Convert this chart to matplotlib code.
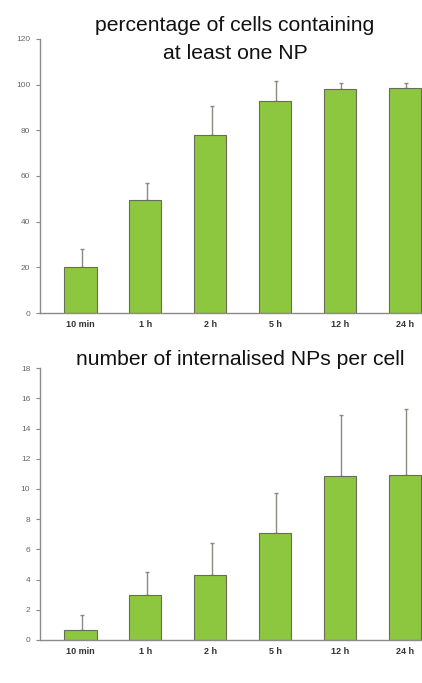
import numpy as np
import matplotlib.pyplot as plt

plt.rcParams['font.family'] = ['Liberation Sans', 'DejaVu Sans']

categories = ['10 min', '1 h', '2 h', '5 h', '12 h', '24 h']

# percentage of cells containing at least one NP
pct_means = [20, 49.5, 78, 93, 98, 98.5]
pct_err = [8, 7.5, 12.5, 8.5, 2.5, 2]

# number of internalised NPs per cell
num_means = [0.65, 3.0, 4.3, 7.1, 10.85, 10.9]
num_err = [1.0, 1.5, 2.1, 2.6, 4.05, 4.4]

bar_color = '#8dc63f'
edge_color = '#6b6b5a'
axis_color = '#8a8a8a'

fig = plt.figure(figsize=(4.22, 6.83), dpi=100)
ax1 = fig.add_axes([0.0948, 0.5417, 0.9052, 0.4013])
ax2 = fig.add_axes([0.0948, 0.063, 0.9052, 0.398])

x = np.arange(len(categories))


def style(ax, means, errs, ymax, step):
    ax.bar(x, means, width=0.5, color=bar_color, edgecolor=edge_color, linewidth=0.8, zorder=2)
    ax.errorbar(x + 0.02, means, yerr=[np.zeros(len(x)), errs], fmt='none',
                ecolor='#8a8a80', elinewidth=1.0, capsize=1.5, capthick=1.0, zorder=1)
    ax.set_xlim(-0.62, 5.26)
    ax.set_ylim(0, ymax)
    ax.set_yticks(np.arange(0, ymax + 1, step))
    ax.set_xticks(x)
    ax.set_xticklabels(categories, fontsize=6.5, fontweight='bold', color='#333333')
    ax.tick_params(axis='y', labelsize=6, labelcolor='#666666', color=axis_color, length=3, width=0.8, pad=4)
    ax.tick_params(axis='x', length=0, pad=5)
    for s in ['top', 'right']:
        ax.spines[s].set_visible(False)
    for s in ['left', 'bottom']:
        ax.spines[s].set_color(axis_color)
        ax.spines[s].set_linewidth(1.0)


style(ax1, pct_means, pct_err, 120, 20)
style(ax2, num_means, num_err, 18, 2)

fig.text(0.557, 0.962, 'percentage of cells containing', ha='center', va='center', fontsize=15.2, color='#111111')
fig.text(0.557, 0.922, 'at least one NP', ha='center', va='center', fontsize=15.2, color='#111111')
fig.text(0.570, 0.473, 'number of internalised NPs per cell', ha='center', va='center', fontsize=15.2, color='#111111')

fig.savefig('out.png', dpi=100)
